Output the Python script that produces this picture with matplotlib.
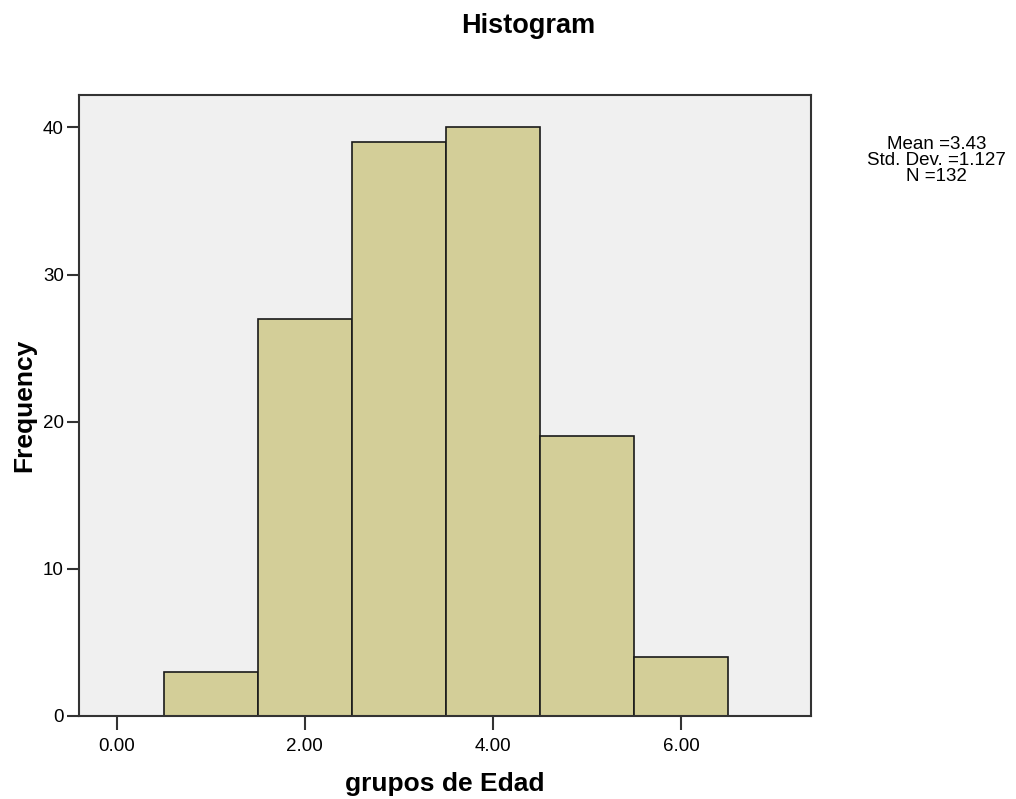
import matplotlib
matplotlib.use('Agg')
import matplotlib.pyplot as plt

plt.rcParams['font.family'] = ['Liberation Sans', 'DejaVu Sans']

# histogram bins (grupos de Edad) and counts
bin_edges = [0.5, 1.5, 2.5, 3.5, 4.5, 5.5, 6.5]
counts = [3, 27, 39, 40, 19, 4]
xticks = [0, 2, 4, 6]
xtick_labels = ['0.00', '2.00', '4.00', '6.00']
yticks = [0, 10, 20, 30, 40]
stats_text = 'Mean =3.43\nStd. Dev. =1.127\nN =132'

fig = plt.figure(figsize=(10.16, 7.99), dpi=100)
ax = fig.add_axes([0.0778, 0.1039, 0.7205, 0.7772])
ax.set_facecolor('#f0f0f0')

lefts = bin_edges[:-1]
widths = [b - a for a, b in zip(bin_edges[:-1], bin_edges[1:])]
ax.bar(lefts, counts, width=widths, align='edge', color='#d3ce98',
       edgecolor='#1a1a1a', linewidth=1.2)

ax.set_xlim(-0.40, 7.38)
ax.set_ylim(0, 42.2)
ax.set_xticks(xticks)
ax.set_xticklabels(xtick_labels)
ax.set_yticks(yticks)
ax.tick_params(axis='x', direction='out', length=10, width=1.5, pad=6,
               labelsize=13.5, color='#333333')
ax.tick_params(axis='y', direction='out', length=9, width=1.5, pad=2,
               labelsize=13.5, color='#333333')
for s in ax.spines.values():
    s.set_linewidth(1.5)
    s.set_color('#333333')

ax.set_xlabel('grupos de Edad', fontsize=19, fontweight='bold', labelpad=12)
ax.set_ylabel('Frequency', fontsize=19, fontweight='bold', labelpad=5)
fig.text(0.52, 0.968, 'Histogram', ha='center', va='center',
         fontsize=19.5, fontweight='bold')
fig.text(0.922, 0.799, stats_text, ha='center', va='center',
         fontsize=13.5, linespacing=0.9)

fig.savefig('out.png', dpi=100)
